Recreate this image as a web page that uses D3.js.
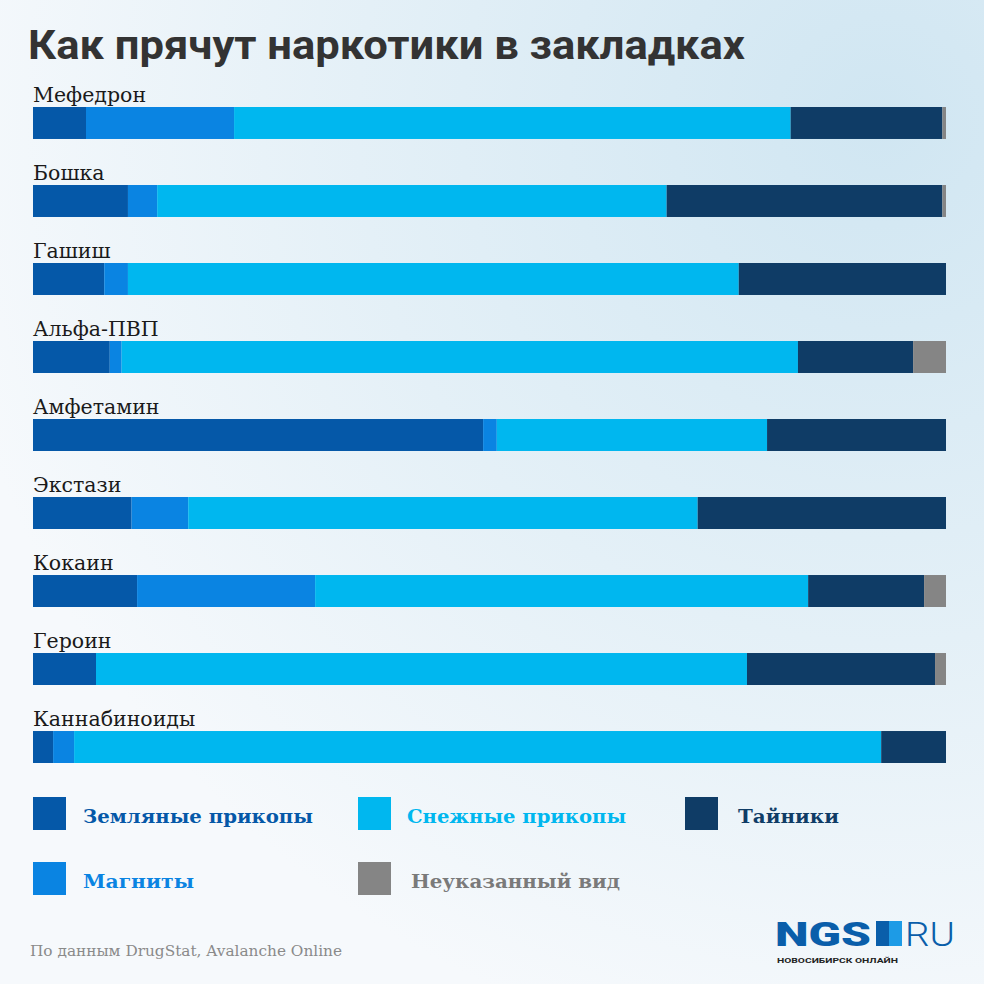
<!DOCTYPE html>
<html lang="ru">
<head>
<meta charset="UTF-8">
<title>Как прячут наркотики в закладках</title>
<script src="https://d3js.org/d3.v7.min.js"></script>
<style>
  body { margin: 0; }
  svg { display: block; }
</style>
</head>
<body>
<svg id="chart" width="984" height="984"></svg>
<script>
// data, shares in percent
const drugs = ["Мефедрон", "Бошка", "Гашиш", "Альфа-ПВП", "Амфетамин", "Экстази", "Кокаин", "Героин", "Каннабиноиды"];
const seriesNames = ["Земляные прикопы", "Магниты", "Снежные прикопы", "Тайники", "Неуказанный вид"];
const earth   = [5.8, 10.4, 7.8, 8.4, 49.3, 10.8, 11.4, 6.9, 2.2];
const magnets = [16.2, 3.2, 2.6, 1.3, 1.5, 6.2, 19.5, 0, 2.3];
const snow    = [60.9, 55.8, 66.9, 74.0, 29.6, 55.8, 54.0, 71.3, 88.4];
const caches  = [16.6, 30.2, 22.7, 12.6, 19.6, 27.2, 12.7, 20.6, 7.1];
const unknown = [0.4, 0.4, 0, 3.6, 0, 0, 2.4, 1.2, 0];

const colors = ["#0558a8", "#0a84e2", "#00b7ef", "#0f3c66", "#858585"];

const rows = drugs.map((d, i) => ({
  drug: d,
  "Земляные прикопы": earth[i],
  "Магниты": magnets[i],
  "Снежные прикопы": snow[i],
  "Тайники": caches[i],
  "Неуказанный вид": unknown[i]
}));

const svg = d3.select("#chart");
const W = 984, H = 984;

// background
const defs = svg.append("defs");
const grad = defs.append("radialGradient")
  .attr("id", "bg").attr("gradientUnits", "userSpaceOnUse")
  .attr("cx", 880).attr("cy", 120).attr("r", 950);
grad.append("stop").attr("offset", "0").attr("stop-color", "#d0e6f2");
grad.append("stop").attr("offset", "0.55").attr("stop-color", "#e4f0f7");
grad.append("stop").attr("offset", "1").attr("stop-color", "#f6f9fc");
svg.append("rect").attr("width", W).attr("height", H).attr("fill", "url(#bg)");

// title
svg.append("text")
  .attr("x", 28).attr("y", 59)
  .attr("font-family", "Roboto, sans-serif")
  .attr("font-weight", 700)
  .attr("font-size", 41)
  .attr("fill", "#333333")
  .attr("textLength", 717)
  .attr("lengthAdjust", "spacingAndGlyphs")
  .text("Как прячут наркотики в закладках");

const x = d3.scaleLinear().domain([0, 1]).range([33, 946]);
const y = d3.scaleBand().domain(drugs).range([107, 763]).paddingInner(0.59).paddingOuter(0);

const stack = d3.stack().keys(seriesNames).offset(d3.stackOffsetExpand);
const layers = stack(rows);

const g = svg.append("g");
g.selectAll("g.layer")
  .data(layers)
  .enter().append("g")
  .attr("class", "layer")
  .attr("fill", (d, i) => colors[i])
  .selectAll("rect")
  .data(d => d)
  .enter().append("rect")
  .attr("x", d => x(d[0]))
  .attr("y", d => y(d.data.drug))
  .attr("width", d => Math.max(0, x(d[1]) - x(d[0])))
  .attr("height", y.bandwidth());

// drug labels
svg.selectAll("text.label")
  .data(drugs)
  .enter().append("text")
  .attr("class", "label")
  .attr("x", 33)
  .attr("y", d => y(d) - 5)
  .attr("font-family", "'DejaVu Serif', serif")
  .attr("font-size", 20.5)
  .attr("fill", "#1a1a1a")
  .text(d => d);

// legend
const legendPos = [
  { x: 33, y: 797, tx: 83, w: 230 },
  { x: 33, y: 862, tx: 83, w: 111 },
  { x: 358, y: 797, tx: 407, w: 219 },
  { x: 685, y: 797, tx: 738, w: 101 },
  { x: 358, y: 862, tx: 411, w: 209 }
];
const legend = svg.selectAll("g.legend")
  .data(seriesNames)
  .enter().append("g")
  .attr("class", "legend");
legend.append("rect")
  .attr("x", (d, i) => legendPos[i].x)
  .attr("y", (d, i) => legendPos[i].y)
  .attr("width", 33).attr("height", 33)
  .attr("fill", (d, i) => colors[i]);
legend.append("text")
  .attr("x", (d, i) => legendPos[i].tx)
  .attr("y", (d, i) => legendPos[i].y + 26)
  .attr("font-family", "'DejaVu Serif', serif")
  .attr("font-weight", 700)
  .attr("font-size", 19)
  .attr("fill", (d, i) => i === 4 ? "#7a7a7a" : colors[i])
  .attr("textLength", (d, i) => legendPos[i].w)
  .attr("lengthAdjust", "spacingAndGlyphs")
  .text(d => d);

// source
svg.append("text")
  .attr("x", 30).attr("y", 956)
  .attr("font-family", "'DejaVu Serif', serif")
  .attr("font-size", 15)
  .attr("fill", "#8a8a8a")
  .attr("textLength", 312)
  .attr("lengthAdjust", "spacingAndGlyphs")
  .text("По данным DrugStat, Avalanche Online");

// logo
const logo = svg.append("g");
logo.append("text")
  .attr("x", 775).attr("y", 946)
  .attr("font-family", "Roboto, sans-serif")
  .attr("font-weight", 900)
  .attr("font-size", 34)
  .attr("fill", "#0a5eaa")
  .attr("textLength", 96)
  .attr("lengthAdjust", "spacingAndGlyphs")
  .text("NGS");
logo.append("rect").attr("x", 876).attr("y", 921).attr("width", 13).attr("height", 25).attr("fill", "#0a5eaa");
logo.append("rect").attr("x", 889).attr("y", 921).attr("width", 13).attr("height", 25).attr("fill", "#1d9be6");
logo.append("text")
  .attr("x", 905).attr("y", 946)
  .attr("font-family", "Roboto, sans-serif")
  .attr("font-weight", 300)
  .attr("font-size", 34)
  .attr("fill", "#0a5eaa")
  .attr("textLength", 50)
  .attr("lengthAdjust", "spacingAndGlyphs")
  .text("RU");
logo.append("text")
  .attr("x", 777).attr("y", 963)
  .attr("font-family", "Roboto, sans-serif")
  .attr("font-weight", 700)
  .attr("font-size", 8)
  .attr("fill", "#222")
  .attr("textLength", 121)
  .attr("lengthAdjust", "spacingAndGlyphs")
  .text("НОВОСИБИРСК ОНЛАЙН");
</script>
</body>
</html>
